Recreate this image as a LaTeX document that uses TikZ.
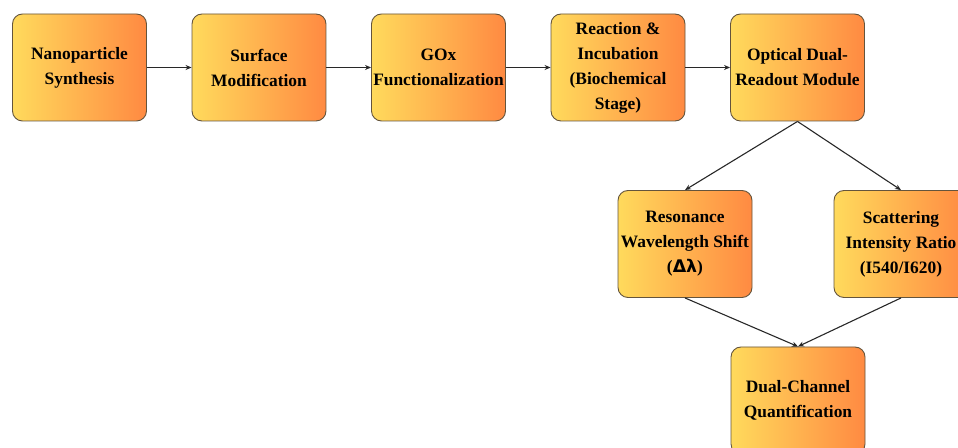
\documentclass[tikz,border=0pt]{standalone}
\usepackage{fontspec}
\setmainfont{Liberation Serif}
\newfontfamily\greekfont{DejaVu Sans}
\usetikzlibrary{arrows.meta}

\definecolor{boxleft}{RGB}{255,218,92}
\definecolor{boxright}{RGB}{255,138,66}
\definecolor{boxline}{RGB}{100,84,60}
\definecolor{arrowline}{RGB}{40,40,40}

\tikzset{
  stage/.style={draw=boxline, line width=0.9pt, rounded corners=10pt,
    left color=boxleft, right color=boxright, shading=axis,
    minimum width=134pt, minimum height=107pt, inner sep=0pt,
    align=center, font=\bfseries\fontsize{17.4}{25}\selectfont},
  flow/.style={draw=arrowline, line width=1.1pt, -{Stealth[length=6pt,width=5pt]}}
}

\begin{document}
\begin{tikzpicture}[x=1pt, y=1pt]
    \clip (0,0) rectangle (958,447);
    % Top row
    \node[stage] (synth) at (79.5,379.5) {Nanoparticle\\Synthesis};
    \node[stage] (surf) at (259,379.5) {Surface\\Modification};
    \node[stage] (gox) at (438.5,379.5) {GOx\\Functionalization};
    \node[stage] (react) at (618,379.5) {Reaction \&\\Incubation\\(Biochemical\\Stage)};
    \node[stage] (optic) at (797.5,379.5) {Optical Dual-\\Readout Module};
    % Readout branches
    \node[stage] (reson) at (685,203) {Resonance\\Wavelength Shift\\({\greekfont Δλ})};
    \node[stage] (scatt) at (901,203) {Scattering\\Intensity Ratio\\(I540/I620)};
    % Result
    \node[stage] (quant) at (798,46.5) {Dual-Channel\\Quantification};
    % Connectors
    \draw[flow] (synth) -- (surf);
    \draw[flow] (surf) -- (gox);
    \draw[flow] (gox) -- (react);
    \draw[flow] (react) -- (optic);
    \draw[flow] (optic.south) -- (reson.north);
    \draw[flow] (optic.south) -- (scatt.north);
    \draw[flow] (reson.south) -- (quant.north);
    \draw[flow] (scatt.south) -- (quant.north);
\end{tikzpicture}
\end{document}
